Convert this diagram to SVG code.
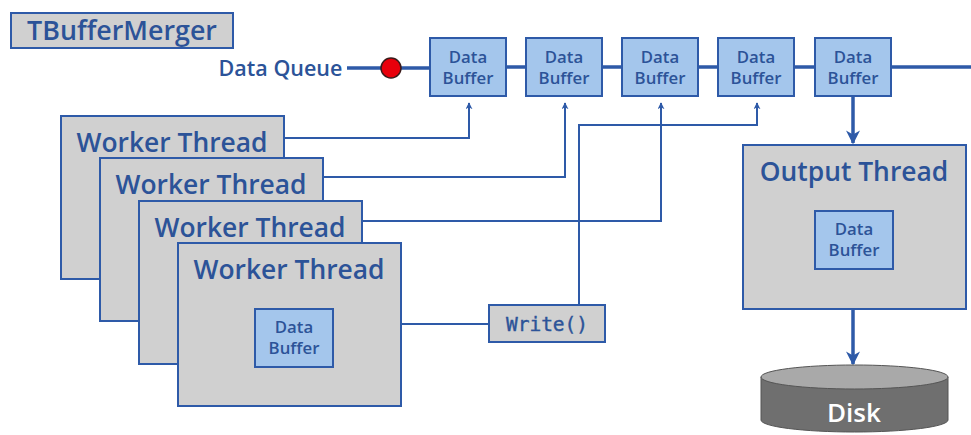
<svg xmlns="http://www.w3.org/2000/svg" width="971" height="435" viewBox="0 0 971 435">
<defs>
<style>
.t{font-family:"Open Sans","Noto Sans","Liberation Sans",sans-serif;font-weight:600;fill:#2c5398;text-anchor:middle}
.mono{font-family:"DejaVu Sans Mono","Liberation Mono",monospace;fill:#2c5398;text-anchor:middle;stroke:#2c5398;stroke-width:0.4}
.gray{fill:#d0d0d0;stroke:#2e5aa8;stroke-width:2}
.buf{fill:#a4c6ec;stroke:#2e5aa8;stroke-width:2}
.ln{fill:none;stroke:#2e5aa8;stroke-width:2}
.q{fill:none;stroke:#2e5aa8;stroke-width:3.5}
.bt{font-size:16.8px}
.wt{font-size:26.4px}
</style>
<marker id="ah" viewBox="0 0 10 10" refX="9" refY="5" markerWidth="7" markerHeight="7" markerUnits="userSpaceOnUse" orient="auto">
<path d="M0,0 L10,5 L0,10 L3,5 z" fill="#2e5aa8"/>
</marker>
<marker id="ah2" viewBox="0 0 10 10" refX="9" refY="5" markerWidth="4" markerHeight="4" orient="auto">
<path d="M0,0 L10,5 L0,10 L3,5 z" fill="#2e5aa8"/>
</marker>
</defs>
<rect width="971" height="435" fill="#fff"/>

<g id="title">
<rect x="11" y="13" width="222" height="35" fill="#d0d0d0" stroke="#2e5aa8" stroke-width="2"/>
<text class="t" x="122" y="40" font-size="26.8">TBufferMerger</text>
</g>

<g id="connectors">
<path class="q" d="M347,68 H430 M506,67 H526 M602,67 H622 M698,67 H718 M794,67 H815 M891,67 H971"/>
<path class="ln" d="M284,138 H469 V103" marker-end="url(#ah)"/>
<path class="ln" d="M323,177 H565 V103" marker-end="url(#ah)"/>
<path class="ln" d="M362,221 H661 V103" marker-end="url(#ah)"/>
<path class="ln" d="M579,305 V125 H757 V103" marker-end="url(#ah)"/>
<path class="ln" d="M401,324 H489"/>
<path class="q" d="M853,96 V143" marker-end="url(#ah2)"/>
<path class="q" d="M853,309 V364" marker-end="url(#ah2)"/>
</g>

<g id="queue-label">
<text class="t" x="280.5" y="76" font-size="21.5">Data Queue</text>
<circle cx="391" cy="68" r="10" fill="#e8000b" stroke="#3a1a1a" stroke-width="1.5"/>
</g>

<g id="buffer1"><rect class="buf" x="430" y="38" width="76" height="58"/><text class="t bt" x="468" y="63">Data</text><text class="t bt" x="468" y="84">Buffer</text></g>
<g id="buffer2"><rect class="buf" x="526" y="38" width="76" height="58"/><text class="t bt" x="564" y="63">Data</text><text class="t bt" x="564" y="84">Buffer</text></g>
<g id="buffer3"><rect class="buf" x="622" y="38" width="76" height="58"/><text class="t bt" x="660" y="63">Data</text><text class="t bt" x="660" y="84">Buffer</text></g>
<g id="buffer4"><rect class="buf" x="718" y="38" width="76" height="58"/><text class="t bt" x="756" y="63">Data</text><text class="t bt" x="756" y="84">Buffer</text></g>
<g id="buffer5"><rect class="buf" x="815" y="38" width="76" height="58"/><text class="t bt" x="853" y="63">Data</text><text class="t bt" x="853" y="84">Buffer</text></g>

<g id="worker1"><rect class="gray" x="61" y="116" width="223" height="163"/><text class="t wt" x="172" y="152">Worker Thread</text></g>
<g id="worker2"><rect class="gray" x="100" y="158" width="223" height="163"/><text class="t wt" x="211" y="194">Worker Thread</text></g>
<g id="worker3"><rect class="gray" x="139" y="201" width="223" height="163"/><text class="t wt" x="250" y="237">Worker Thread</text></g>
<g id="worker4"><rect class="gray" x="178" y="243" width="223" height="163"/><text class="t wt" x="289" y="279">Worker Thread</text>
<rect class="buf" x="255" y="309" width="78" height="58"/><text class="t bt" x="294" y="333">Data</text><text class="t bt" x="294" y="354">Buffer</text></g>

<g id="write"><rect class="gray" x="489" y="305" width="116" height="37"/><text class="mono" x="547" y="331" font-size="19.5">Write()</text></g>

<g id="output"><rect class="gray" x="743" y="145" width="223" height="164"/><text class="t wt" x="854" y="181">Output Thread</text>
<rect class="buf" x="815" y="211" width="78" height="58"/><text class="t bt" x="854" y="235">Data</text><text class="t bt" x="854" y="256">Buffer</text></g>

<g id="disk">
<path d="M761,377 V420 A93.5,12 0 0 0 948,420 V377 Z" fill="#6f6f6f" stroke="#555" stroke-width="1"/>
<ellipse cx="854.5" cy="377" rx="93.5" ry="12" fill="#a9a9a9" stroke="#555" stroke-width="1"/>
<text class="t" x="854" y="422" font-size="26" style="fill:#fff">Disk</text>
</g>
</svg>
